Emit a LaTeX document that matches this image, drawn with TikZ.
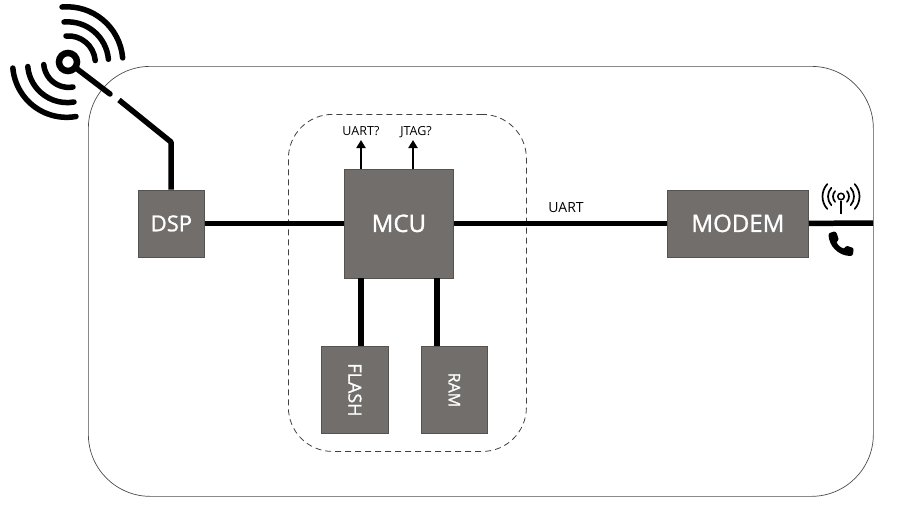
\documentclass[tikz,border=0pt]{standalone}
\usepackage{fontspec}
\setmainfont{Open Sans}
\newfontfamily\blockfont{Open Sans}[FakeBold=1.2]
\usetikzlibrary{arrows.meta}
\definecolor{boxfill}{HTML}{716E6C}
\definecolor{boxedge}{HTML}{55524F}
\tikzset{
  x=1pt,y=-1pt,
  block/.style={draw=boxedge,line width=0.8pt,fill=boxfill,text=white,inner sep=0,anchor=north west,font=\blockfont\fontsize{#1}{#1}\selectfont},
  block/.default=22,
  wire/.style={line width=5.5pt,black},
  thinwire/.style={line width=2.8pt,black,-{Triangle[length=8pt,width=9pt]}},
  wave/.style={line width=5.5pt,line cap=round,black},
  wavesmall/.style={line width=1.7pt,line cap=round,black},
  lbl/.style={font=\fontsize{12.5}{13}\selectfont,text=black,inner sep=0,anchor=base},
}
\begin{document}
\begin{tikzpicture}
\useasboundingbox (0,0) rectangle (917,507);
% enclosures
\node[draw=black!70,line width=0.7pt,rounded corners=62pt,minimum width=785pt,minimum height=430pt,anchor=north west,inner sep=0] (board) at (88,66) {};
\node[draw=black!75,line width=0.8pt,dashed,dash pattern=on 6pt off 4pt,rounded corners=44pt,minimum width=238pt,minimum height=337pt,anchor=north west,inner sep=0] (core) at (288,114) {};
% blocks
\node[block=22,minimum width=66pt,minimum height=67pt] (dsp) at (138,189.5) {DSP};
\node[block=24,minimum width=109pt,minimum height=109pt] (mcu) at (344,168.5) {MCU};
\node[block=24,minimum width=141pt,minimum height=67pt] (modem) at (667,189.5) {MODEM};
\node[block=18,minimum width=67pt,minimum height=87pt] (flash) at (321,346) {\rotatebox{-90}{FLASH}};
\node[block=16,minimum width=66pt,minimum height=87pt] (ram) at (421,346) {\rotatebox{-90}{RAM}};
% free ends
\coordinate (bend) at (171,142);
\coordinate (gapb) at (119,100);
\coordinate (gapa) at (110,94);
\coordinate (ant) at (68,62);
\coordinate (lineout) at (873,223);
\coordinate (uartend) at (361,140);
\coordinate (jtagend) at (413,140);
\coordinate (uartfoot) at (361,169);
\coordinate (jtagfoot) at (413,169);
\coordinate (flashtop) at (361,346);
\coordinate (flashfoot) at (361,278);
\coordinate (ramtop) at (437,346);
\coordinate (ramfoot) at (437,278);
% connectors
\draw[wire] (dsp.east) -- (mcu.west);
\draw[wire] (mcu.east) -- (modem.west);
\draw[wire] (modem.east) -- (lineout);
\draw[wire] (flashfoot) -- (flashtop);
\draw[wire] (ramfoot) -- (ramtop);
\draw[wire,line join=round] (dsp.north -| bend) -- (bend) -- (gapb);
\draw[wire,line cap=round] (gapa) -- (ant);
\draw[thinwire] (uartfoot) -- (uartend);
\draw[thinwire] (jtagfoot) -- (jtagend);
% labels
\node[lbl] (l1) at (361,135) {UART?};
\node[lbl] (l2) at (416,135) {JTAG?};
\node[lbl,font=\fontsize{14}{14}\selectfont] (l3) at (566,212) {UART};
% antenna
\node[circle,draw=black,line width=6.5pt,fill=white,minimum size=18pt,inner sep=0] (head) at (ant) {};
\draw[wave] (66,36) arc[start angle=-95,end angle=-5,radius=27];
\draw[wave] (64,22) arc[start angle=-95,end angle=-5,radius=41];
\draw[wave] (62,7) arc[start angle=-95,end angle=-5,radius=56];
\draw[wave] (73,87) arc[start angle=80,end angle=175,radius=25];
\draw[wave] (74,102) arc[start angle=80,end angle=175,radius=39.5];
\draw[wave] (76,116.5) arc[start angle=80,end angle=175,radius=54];
% wireless icon
\node[circle,draw=black,line width=1.5pt,minimum size=6.5pt,inner sep=0] (wifi) at (841,196.5) {};
\coordinate (wifistem) at (841,214);
\draw[line width=1.7pt] (wifi.south) -- (wifistem);
\foreach \r in {8,13,18.5}{
  \draw[wavesmall] (841,196.5) ++(-42:\r) arc[start angle=-42,end angle=42,radius=\r];
  \draw[wavesmall] (841,196.5) ++(138:\r) arc[start angle=138,end angle=222,radius=\r];
}
% phone icon
\fill[black] (829.5,233) -- (834,231.5) .. controls (835.5,231.5) and (836.5,232.5) .. (837,234) -- (838.5,239)
  .. controls (838.5,240.5) and (837.5,241) .. (836.5,242)
  .. controls (838,245.5) and (840.5,247.5) .. (844,248.5)
  .. controls (845,247) and (846,246) .. (847.5,246) -- (852,247.5)
  .. controls (853.5,248) and (853.5,249) .. (853.5,250) -- (853,254)
  .. controls (852.5,255.5) and (851.5,256) .. (850,256)
  .. controls (838,255.5) and (829,246) .. (828.5,235) -- cycle;
\end{tikzpicture}
\end{document}
